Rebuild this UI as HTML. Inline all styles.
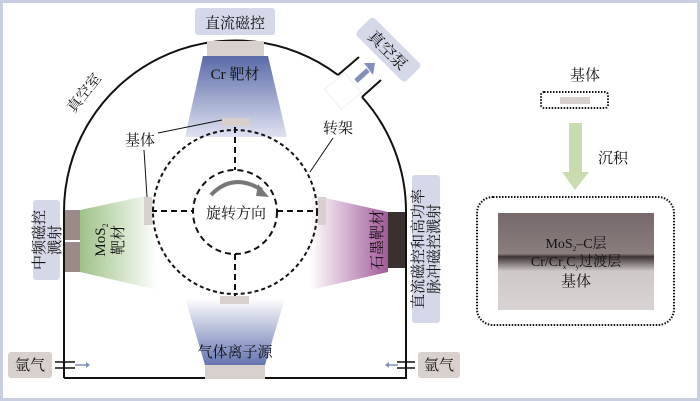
<!DOCTYPE html>
<html><head><meta charset="utf-8"><style>
html,body{margin:0;padding:0;background:#fff}
svg{display:block}
text{font-family:"Liberation Serif","Noto Serif CJK SC",serif;fill:#111}
</style></head><body>
<svg width="700" height="401" viewBox="0 0 700 401" xmlns="http://www.w3.org/2000/svg">
<defs>
<linearGradient id="cr" x1="0" y1="0" x2="0" y2="1"><stop offset="0" stop-color="#5a6aa8"/><stop offset="1" stop-color="#dfe2f0"/></linearGradient>
<linearGradient id="ion" x1="0" y1="0" x2="0" y2="1"><stop offset="0" stop-color="#ffffff"/><stop offset="1" stop-color="#6474b0"/></linearGradient>
<linearGradient id="mos" x1="0" y1="0" x2="1" y2="0"><stop offset="0" stop-color="#9fc288"/><stop offset="1" stop-color="#ffffff"/></linearGradient>
<linearGradient id="gr" x1="1" y1="0" x2="0" y2="0"><stop offset="0" stop-color="#a25a9a"/><stop offset="1" stop-color="#ffffff"/></linearGradient>
<linearGradient id="lay" x1="0" y1="0" x2="0" y2="1"><stop offset="0" stop-color="#76696a"/><stop offset="0.42" stop-color="#8a7e7d"/><stop offset="0.45" stop-color="#3e3434"/><stop offset="0.6" stop-color="#cfc8c8"/><stop offset="1" stop-color="#d9d3d3"/></linearGradient>
</defs>
<rect x="1.5" y="1.5" width="697" height="398" fill="#fff" stroke="#c9cee0" stroke-width="3"/>
<polygon points="203,56 268,56 287,137 185,137" fill="url(#cr)"/>
<polygon points="185,298 285,298 265,365 205,365" fill="url(#ion)"/>
<polygon points="80,210 150,195 158,290 80,272" fill="url(#mos)"/>
<polygon points="388,212 312,195 310,290 388,272" fill="url(#gr)"/>
<path d="M64,378 L64,213 A171,171 0 0 1 338,75 M362,97 A171,171 0 0 1 406,213 L406,378 L64,378" fill="none" stroke="#111" stroke-width="2"/>
<path d="M338,75 L359,57 M362,97 L381,80" stroke="#111" stroke-width="2" fill="none"/>
<rect x="330" y="78" width="26" height="26" fill="#fff" stroke="#eee" transform="rotate(-40 343 91)"/>
<g transform="rotate(45 388 50)"><rect x="353" y="37" width="70" height="25" rx="4" fill="#d5d8e8"/><text x="388" y="56" font-size="16" text-anchor="middle">真空泵</text></g>
<path d="M356,81 L368,70" stroke="#8090bb" stroke-width="5"/><polygon points="364,63 375,63 373,75" fill="#8090bb"/>
<rect x="195" y="8" width="80" height="27" rx="3" fill="#d5d8e8"/>
<text x="235" y="28" font-size="15" text-anchor="middle">直流磁控</text>
<rect x="207" y="41" width="57" height="15" fill="#d8d0cc"/>
<text x="235" y="79" font-size="15" text-anchor="middle">Cr 靶材</text>
<rect x="205" y="365" width="60" height="14" fill="#d8d0cc"/>
<text x="235" y="357" font-size="15" text-anchor="middle">气体离子源</text>
<rect x="33" y="200" width="27" height="80" rx="3" fill="#d5d8e8"/>
<text transform="translate(46,240) rotate(-90)" font-size="15" text-anchor="middle"><tspan x="0" y="-2">中频磁控</tspan><tspan x="0" y="14">溅射</tspan></text>
<rect x="65" y="210" width="15" height="30" fill="#9a8a8a"/><rect x="65" y="242" width="15" height="30" fill="#9a8a8a"/>
<text transform="translate(108,240) rotate(-90)" font-size="15" text-anchor="middle"><tspan x="0" y="-3">MoS<tspan font-size="8" dy="3">2</tspan></tspan><tspan x="0" y="15">靶材</tspan></text>
<rect x="388" y="212" width="17" height="56" fill="#3a3030"/>
<rect x="412" y="175" width="28" height="148" rx="3" fill="#d5d8e8"/>
<text transform="translate(426,249) rotate(-90)" font-size="15" text-anchor="middle"><tspan x="0" y="-3">直流磁控和高功率</tspan><tspan x="0" y="13">脉冲磁控溅射</tspan></text>
<text transform="translate(382,240) rotate(-90)" font-size="15" text-anchor="middle">石墨靶材</text>
<circle cx="235" cy="212" r="82" fill="none" stroke="#111" stroke-width="2" stroke-dasharray="4,3"/>
<circle cx="235" cy="212" r="42" fill="none" stroke="#111" stroke-width="2" stroke-dasharray="6,4"/>
<path d="M235,127 V170 M235,254 V296 M151,211 H193 M277,211 H317" stroke="#111" stroke-width="2" stroke-dasharray="6,4"/>
<rect x="222" y="118" width="27" height="8" fill="#d8d0cc"/>
<rect x="220" y="296" width="29" height="8" fill="#d8d0cc"/>
<rect x="144" y="197" width="8" height="28" fill="#d8d0cc"/>
<rect x="318" y="197" width="8" height="28" fill="#d8d0cc"/>
<path d="M211,195 Q233,172 262,190" fill="none" stroke="#777" stroke-width="4"/>
<polygon points="258,184 269,197 256,196" fill="#777"/>
<text x="236" y="218" font-size="15" text-anchor="middle">旋转方向</text>
<text x="140" y="145" font-size="15" text-anchor="middle">基体</text>
<path d="M158,133 L222,120 M144,150 L147,197" stroke="#111" stroke-width="1"/>
<text x="338" y="133" font-size="15" text-anchor="middle">转架</text>
<path d="M333,138 L310,172" stroke="#111" stroke-width="1"/>
<text transform="translate(88,96) rotate(-52)" font-size="15" text-anchor="middle">真空室</text>
<rect x="8" y="352" width="44" height="26" rx="3" fill="#d8d0cc"/>
<text x="30" y="370" font-size="15" text-anchor="middle">氩气</text>
<path d="M55,362 H75 M55,368 H75" stroke="#111" stroke-width="1.5"/>
<path d="M75,365 H86" stroke="#8090bb" stroke-width="1.5"/><polygon points="86,362 86,368 90,365" fill="#8090bb"/>
<rect x="418" y="352" width="42" height="26" rx="3" fill="#d8d0cc"/>
<text x="439" y="370" font-size="15" text-anchor="middle">氩气</text>
<path d="M397,362 H415 M397,368 H415" stroke="#111" stroke-width="1.5"/>
<path d="M389,365 H398" stroke="#8090bb" stroke-width="1.5"/><polygon points="389,362 389,368 385,365" fill="#8090bb"/>
<text x="585" y="80" font-size="15" text-anchor="middle">基体</text>
<rect x="541" y="92" width="67" height="16" rx="3" fill="none" stroke="#111" stroke-width="2" stroke-dasharray="1.5,1.5"/>
<rect x="560" y="97" width="30" height="7" fill="#d8d0cc"/>
<rect x="569" y="123" width="13" height="50" fill="#c8dcb0"/>
<polygon points="562,172 589,172 575,190" fill="#c8dcb0"/>
<text x="613" y="163" font-size="15" text-anchor="middle">沉积</text>
<rect x="477" y="197" width="197" height="128" rx="16" fill="none" stroke="#111" stroke-width="2" stroke-dasharray="1.5,1.5"/>
<rect x="498" y="213" width="156" height="97" fill="url(#lay)"/>
<text x="576" y="248" font-size="14" text-anchor="middle">MoS<tspan font-size="7" dy="3">2</tspan><tspan dy="-3">–C层</tspan></text>
<text x="576" y="266" font-size="14" text-anchor="middle">Cr/Cr<tspan font-size="7" dy="3">x</tspan><tspan dy="-3">C</tspan><tspan font-size="7" dy="3">y</tspan><tspan dy="-3">过渡层</tspan></text>
<text x="576" y="286" font-size="15" text-anchor="middle">基体</text>
</svg>
</body></html>
